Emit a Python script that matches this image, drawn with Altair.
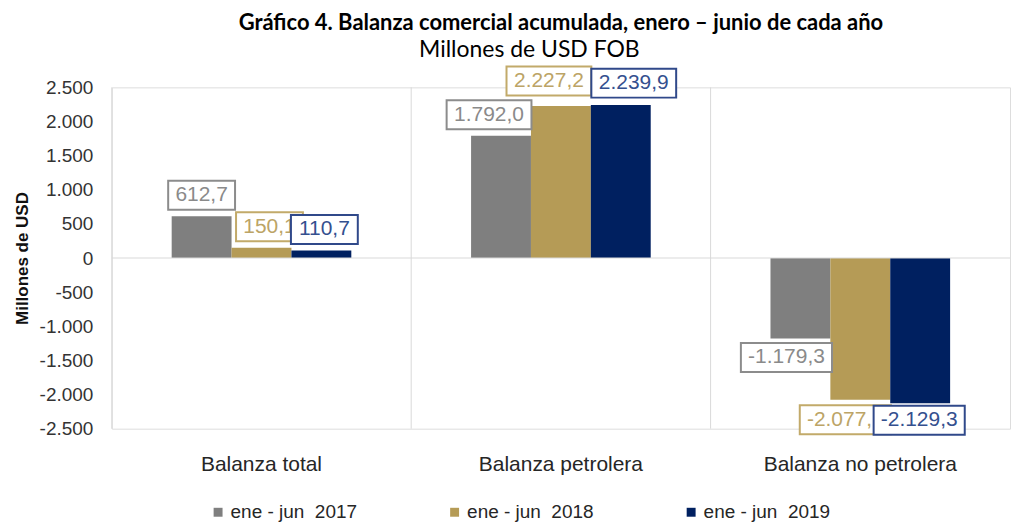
import altair as alt
import pandas as pd

categorias = ["Balanza total", "Balanza petrolera", "Balanza no petrolera"]
series = ["ene - jun\u00a0 2017", "ene - jun\u00a0 2018", "ene - jun\u00a0 2019"]
v2017 = [612.7, 1792.0, -1179.3]
v2018 = [150.1, 2227.2, -2077.1]
v2019 = [110.7, 2239.9, -2129.3]
y_ticks = list(range(-2500, 2501, 500))

# style: colours and manual label nudges (pixels, per series x category)
bar_colors = ["#7f7f7f", "#b59b56", "#002060"]
box_colors = ["#8c8c8c", "#c2aa6a", "#30498a"]
text_colors = ["#8a8a8a", "#bca466", "#34508f"]
LABEL_DX = [[0, -12, -14], [8, -12, -15], [3, 13, -1]]
LABEL_DY = [[-21, -21, 19], [-21, -25, 20], [-21, -22, 17]]

LABEL_FS = 21
FONT = "Liberation Sans"


def fmt(v):
    s = f"{abs(v):,.1f}".replace(",", "X").replace(".", ",").replace("X", ".")
    return ("-" if v < 0 else "") + s


SCALE = 50.0  # symbol size 10000 -> path unit = 50 px


def box_path(label, dx, dy):
    em = sum(0.556 if ch.isdigit() else 0.3 for ch in label)
    w = (em * LABEL_FS + 14) / 2.0
    h = 14.5
    x0, x1 = (dx - w) / SCALE, (dx + w) / SCALE
    y0, y1 = (dy - h) / SCALE, (dy + h) / SCALE
    return f"M{x0:.3f},{y0:.3f}L{x1:.3f},{y0:.3f}L{x1:.3f},{y1:.3f}L{x0:.3f},{y1:.3f}Z"


rows = []
for si, (s, vals) in enumerate(zip(series, [v2017, v2018, v2019])):
    for ci, (c, v) in enumerate(zip(categorias, vals)):
        lab = fmt(v)
        rows.append({"id": si * 3 + ci, "si": si, "ci": ci, "cat": c, "serie": s,
                     "valor": v, "label": lab,
                     "path": box_path(lab, LABEL_DX[si][ci], LABEL_DY[si][ci])})
df = pd.DataFrame(rows)
df_zero = pd.DataFrame({"valor": [0.0]})
df_cat = pd.DataFrame({"cat": categorias})

x_axis = alt.Axis(title=None, grid=False, bandPosition=0.5,
                  ticks=False, domain=False, labelAngle=0, labelLimit=0,
                  labelFont=FONT, labelFontSize=21, labelColor="#262626",
                  labelPadding=25)
x_enc = alt.X("cat:N", sort=categorias,
              scale=alt.Scale(paddingInner=0, paddingOuter=0), axis=x_axis)
x_plain = alt.X("cat:N", sort=categorias, axis=x_axis)
xoff = alt.XOffset("serie:N", sort=series, scale=alt.Scale(paddingInner=0, paddingOuter=1))
y_enc = alt.Y("valor:Q", scale=alt.Scale(domain=[-2500, 2500], nice=False),
              axis=alt.Axis(values=y_ticks, grid=False, ticks=False, domain=False,
                            labelOverlap=False,
                            title="Millones de USD", titleFont=FONT, titleFontSize=17,
                            titleFontWeight="bold", titleColor="#111111", titlePadding=8,
                            labelFont=FONT, labelFontSize=19, labelColor="#333333",
                            labelPadding=19,
                            labelExpr="(datum.value < 0 ? '-' : '') + replace(format(abs(datum.value), ','), ',', '.')"))

base = alt.Chart(df)

sep = alt.Chart(df_cat).mark_rule(color="#d9d9d9", strokeWidth=1).encode(
    x=alt.X("cat:N", sort=categorias, bandPosition=0, axis=x_axis))

zero = alt.Chart(df_zero).mark_rule(color="#d9d9d9", strokeWidth=1).encode(y=y_enc)

bars = base.mark_bar().encode(
    x=x_enc, xOffset=xoff, y=y_enc,
    color=alt.Color("serie:N", sort=series,
                    scale=alt.Scale(domain=series, range=bar_colors),
                    legend=alt.Legend(title=None, orient="none", direction="horizontal",
                                      legendX=97, legendY=416,
                                      symbolType="square", symbolSize=80,
                                      labelFont=FONT, labelFontSize=19, labelColor="#262626",
                                      columnPadding=88, labelOffset=3)),
)

layers = [bars, sep, zero]
for r in rows:
    sub = base.transform_filter(alt.datum.id == r["id"])
    box = sub.mark_point(filled=True, fill="white", strokeWidth=2, opacity=1, size=10000,
                         stroke=box_colors[r["si"]]).encode(
        x=x_plain, xOffset=xoff, y=y_enc,
        shape=alt.Shape("path:N", scale=None),
    )
    txt = sub.mark_text(font=FONT, fontSize=LABEL_FS, baseline="middle",
                        dx=LABEL_DX[r["si"]][r["ci"]], dy=LABEL_DY[r["si"]][r["ci"]],
                        fill=text_colors[r["si"]]).encode(
        x=x_plain, xOffset=xoff, y=y_enc, text="label:N",
    )
    layers += [box, txt]

chart = alt.layer(*layers).properties(
    width=900, height=342,
    padding={"left": 5, "top": 3, "right": 0, "bottom": 0},
    title=alt.TitleParams(
        text="Gráfico 4. Balanza comercial acumulada, enero – junio de cada año",
        subtitle="Millones de USD FOB\u2003\u2003\u2003\u2002\u200b",
        font="Lato", fontSize=22, fontWeight="bold", color="#000000",
        subtitleFont="Lato", subtitleFontSize=23, subtitleColor="#000000",
        subtitlePadding=4, anchor="middle", offset=0),
).configure_view(stroke="transparent", strokeWidth=0).configure(background="white")

chart.save("out.html", embed_options={"renderer": "svg", "actions": False})
